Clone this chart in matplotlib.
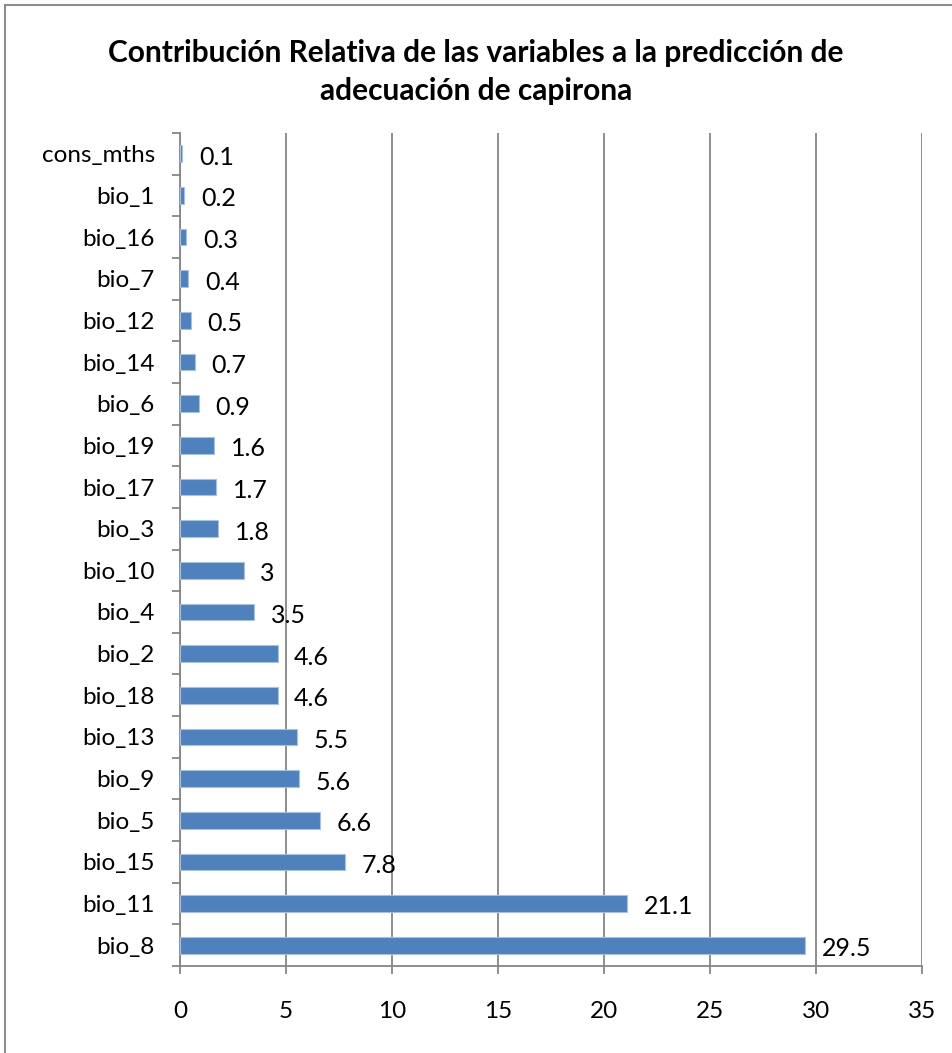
import matplotlib.pyplot as plt
from matplotlib.patches import Rectangle

plt.rcParams['font.family'] = ['Lato', 'DejaVu Sans']

# Contribución relativa (%) de cada variable, de abajo hacia arriba
variables = ['bio_8', 'bio_11', 'bio_15', 'bio_5', 'bio_9', 'bio_13', 'bio_18',
             'bio_2', 'bio_4', 'bio_10', 'bio_3', 'bio_17', 'bio_19', 'bio_6',
             'bio_14', 'bio_12', 'bio_7', 'bio_16', 'bio_1', 'cons_mths']
contribucion = [29.5, 21.1, 7.8, 6.6, 5.6, 5.5, 4.6, 4.6, 3.5, 3, 1.8, 1.7,
                1.6, 0.9, 0.7, 0.5, 0.4, 0.3, 0.2, 0.1]
xticks = [0, 5, 10, 15, 20, 25, 30, 35]

W, H = 952, 1053
fig = plt.figure(figsize=(W / 100, H / 100), dpi=100)
fig.patch.set_facecolor('white')

# marco exterior del gráfico
fig.patches.append(Rectangle((5 / W, -0.1), 1.2, 1 - 5 / H + 0.1,
                             transform=fig.transFigure, fill=False,
                             edgecolor='#8c8c8c', linewidth=1.5))

ax = fig.add_axes([180 / W, 1 - 966 / H, (922 - 180) / W, (966 - 133) / H])

pos = list(range(len(variables)))
ax.barh(pos, contribucion, height=0.4, color='#4F81BD',
        edgecolor='#a9c1e0', linewidth=0.8, zorder=3)

for y, v in zip(pos, contribucion):
    ax.annotate(f'{v:g}', xy=(v, y), xytext=(12, -2.5), textcoords='offset points',
                ha='left', va='center', fontsize=18, color='black', zorder=4)

ax.set_xlim(0, 35)
ax.set_ylim(-0.5, len(variables) - 0.5)
ax.set_xticks(xticks)
ax.set_yticks(pos)
ax.set_yticklabels(variables)
ax.set_yticks([p - 0.5 for p in pos] + [len(variables) - 0.5], minor=True)

ax.grid(axis='x', color='#868686', linewidth=1.3, zorder=0)
for s in ['top', 'right']:
    ax.spines[s].set_visible(False)
for s in ['left', 'bottom']:
    ax.spines[s].set_color('#868686')
    ax.spines[s].set_linewidth(1.3)

ax.tick_params(axis='y', which='major', length=0, pad=18, labelsize=17.5)
ax.tick_params(axis='y', which='minor', length=6, width=1.3, color='#868686')
ax.tick_params(axis='x', length=6, width=1.3, color='#868686', pad=19,
               labelsize=17.5)

fig.text(0.5, 1 - 72 / H,
         'Contribución Relativa de las variables a la predicción de\nadecuación de capirona',
         ha='center', va='center', fontsize=21.5, fontweight='bold',
         linespacing=1.4)

fig.savefig('out.png', dpi=100)
